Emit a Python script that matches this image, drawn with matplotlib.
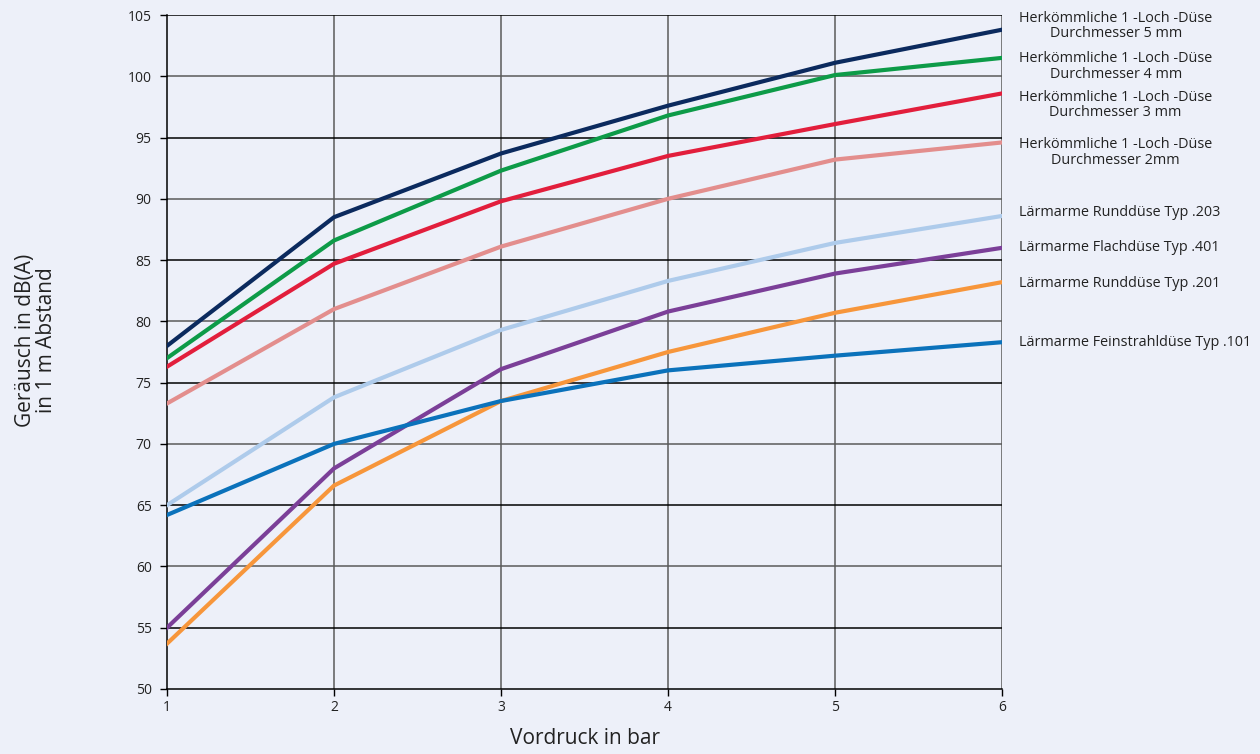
import matplotlib
matplotlib.use("Agg")
import matplotlib.pyplot as plt
import matplotlib.transforms as mtransforms

plt.rcParams['font.family'] = ['Open Sans', 'DejaVu Sans']

pressure = [1, 2, 3, 4, 5, 6]

labels = [
    "Herkömmliche 1 -Loch -Düse\nDurchmesser 5 mm",
    "Herkömmliche 1 -Loch -Düse\nDurchmesser 4 mm",
    "Herkömmliche 1 -Loch -Düse\nDurchmesser 3 mm",
    "Herkömmliche 1 -Loch -Düse\nDurchmesser 2mm",
    "Lärmarme Runddüse Typ .203",
    "Lärmarme Flachdüse Typ .401",
    "Lärmarme Runddüse Typ .201",
    "Lärmarme Feinstrahldüse Typ .101",
]

d5mm = [78.0, 88.5, 93.7, 97.6, 101.1, 103.8]
d4mm = [77.0, 86.6, 92.3, 96.8, 100.1, 101.5]
d3mm = [76.3, 84.7, 89.8, 93.5, 96.1, 98.6]
d2mm = [73.3, 81.0, 86.1, 90.0, 93.2, 94.6]
t203 = [65.0, 73.8, 79.3, 83.3, 86.4, 88.6]
t401 = [55.0, 68.0, 76.1, 80.8, 83.9, 86.0]
t201 = [53.7, 66.6, 73.5, 77.5, 80.7, 83.2]
t101 = [64.2, 70.0, 73.5, 76.0, 77.2, 78.3]

series = [d5mm, d4mm, d3mm, d2mm, t203, t401, t201, t101]
colors = ["#0b2a5e", "#0d9b48", "#e21e3c", "#e38e8d", "#aecbeb",
          "#7b3f98", "#f7963b", "#0b72bb"]
label_y = [104.1, 100.8, 97.65, 93.8, 88.9, 86.0, 83.1, 78.3]

bg = "#edf0f9"
fig = plt.figure(figsize=(12.6, 7.54), dpi=100, facecolor=bg)
ax = fig.add_axes([167/1260, 1-689/754, 835/1260, 674/754])
ax.set_facecolor(bg)

ax.set_xlim(1, 6)
ax.set_ylim(50, 105)
ax.set_xticks(range(1, 7))
ax.set_yticks(range(50, 106, 5))

# grid
for x in range(2, 7):
    ax.axvline(x, color="#5a5a5a", lw=1.1, zorder=1)
for y in range(55, 106, 5):
    c = "#000000" if y % 10 == 5 else "#5a5a5a"
    ax.axhline(y, color=c, lw=1.1, zorder=1)

for vals, col in zip(series, colors):
    ax.plot(pressure, vals, color=col, lw=3.0, zorder=3, solid_joinstyle='miter')

for s in ['top', 'right']:
    ax.spines[s].set_visible(False)
for s in ['left', 'bottom']:
    ax.spines[s].set_color('black')
    ax.spines[s].set_linewidth(1.1)

ax.tick_params(axis='both', direction='out', length=5, width=1, colors='black',
               labelsize=10, labelcolor='#222222')
ax.tick_params(axis='y', pad=6)
ax.tick_params(axis='x', pad=3)

trans = mtransforms.blended_transform_factory(ax.transAxes, ax.transData)
for lab, ly in zip(labels, label_y):
    ax.text(1.0204, ly, lab, transform=trans, ha='left', va='center',
            multialignment='center', fontsize=10.4, color='#222222',
            linespacing=1.05)

fig.text(36/1260, 1-340/754, "Geräusch in dB(A)\nin 1 m Abstand", rotation=90,
         ha='center', va='center', fontsize=15, color='#222222',
         multialignment='center', linespacing=1.0)
fig.text(585/1260, 1-738/754, "Vordruck in bar", ha='center', va='center',
         fontsize=15, color='#222222')

fig.savefig("out.png", dpi=100, facecolor=bg)
